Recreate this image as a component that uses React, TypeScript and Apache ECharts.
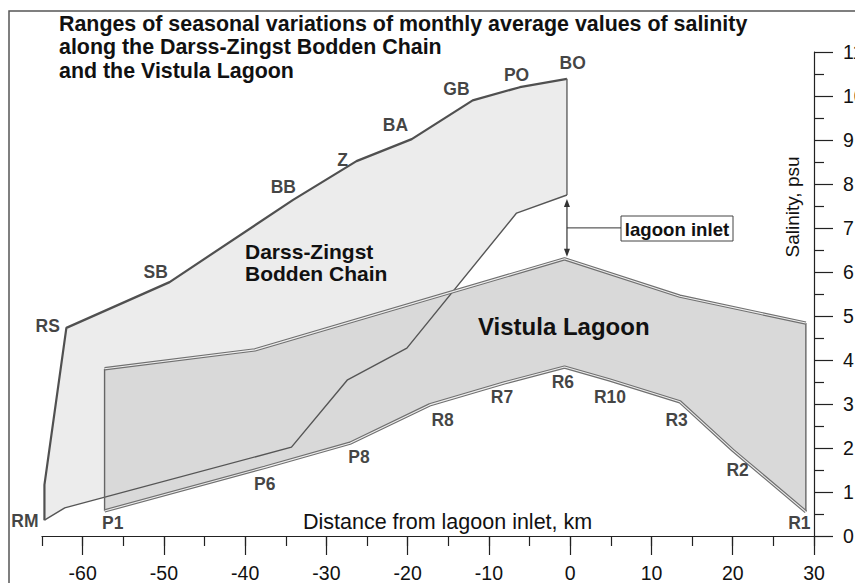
import React, { useEffect, useRef } from 'react';
import * as echarts from 'echarts';

// Darss-Zingst Bodden Chain: upper (max) and lower (min) salinity boundaries, distance km / psu
const darssUpperX = [-64.7, -64.7, -62.0, -49.3, -34.1, -26.3, -19.5, -12.0, -6.2, -0.4];
const darssUpperY = [0.36, 1.16, 4.73, 5.77, 7.64, 8.52, 9.02, 9.9, 10.2, 10.39];
const darssLowerX = [-64.7, -62.2, -34.3, -27.4, -20.1, -6.6, -0.4];
const darssLowerY = [0.36, 0.64, 2.02, 3.55, 4.27, 7.34, 7.75];

// Vistula Lagoon boundaries
const vistulaUpperX = [-57.3, -38.8, -0.7, 13.5, 29.0];
const vistulaUpperY = [3.8, 4.23, 6.3, 5.45, 4.84];
const vistulaLowerX = [-57.3, -37.6, -27.1, -17.3, -8.1, -0.7, 4.8, 13.5, 20.0, 29.0];
const vistulaLowerY = [0.57, 1.56, 2.11, 2.98, 3.48, 3.84, 3.55, 3.05, 1.95, 0.55];

// Station labels (label anchor in km / psu)
const stationNames = ['RM', 'RS', 'SB', 'BB', 'Z', 'BA', 'GB', 'PO', 'BO', 'P1', 'P6', 'P8', 'R8', 'R7', 'R6', 'R10', 'R3', 'R2', 'R1'];
const stationX = [-67.1, -64.3, -51.0, -35.3, -28.0, -21.5, -14.0, -6.6, 0.3, -56.3, -37.6, -26.0, -15.7, -8.4, -0.9, 4.9, 13.1, 20.6, 28.2];
const stationY = [0.34, 4.77, 6.0, 7.93, 8.55, 9.34, 10.16, 10.48, 10.75, 0.3, 1.18, 1.8, 2.64, 3.16, 3.5, 3.16, 2.64, 1.5, 0.3];

const xMin = -65;
const xMax = 30;
const xMajorStart = -60;
const yMin = 0;
const yMax = 11;

const titleText = 'Ranges of seasonal variations of monthly average values of salinity\nalong the Darss-Zingst Bodden Chain\nand the Vistula Lagoon';

export default function App() {
  const ref = useRef<HTMLDivElement>(null);
  useEffect(() => {
    const chart = echarts.init(ref.current!, null, { renderer: 'svg' });
    const font = "'Liberation Sans', Arial, Helvetica, sans-serif";
    const pts = (xs: number[], ys: number[]) => xs.map((x, i) => [x, ys[i]]);
    const darssPoly = [...pts(darssUpperX, darssUpperY), ...pts(darssLowerX, darssLowerY).reverse()];
    const vistulaPoly = [...pts(vistulaUpperX, vistulaUpperY), ...pts(vistulaLowerX, vistulaLowerY).reverse()];

    const gLeft = 42, gTop = 52, gWidth = 772, gHeight = 484;
    const pxPerUnit = gWidth / (xMax - xMin);
    const g2Left = gLeft + (xMajorStart - xMin) * pxPerUnit;

    const polygonSeries = (poly: number[][], fill: string, z: number) => ({
      type: 'custom',
      coordinateSystem: 'cartesian2d',
      xAxisIndex: 0,
      yAxisIndex: 0,
      data: [poly[0]],
      clip: false,
      silent: true,
      z,
      renderItem: (_p: any, api: any) => ({
        type: 'polygon',
        shape: { points: poly.map((p) => api.coord(p)) },
        style: { fill, stroke: 'none' },
      }),
    });
    const lineSeries = (data: number[][], color: string, width: number, z: number) => ({
      type: 'line',
      xAxisIndex: 0,
      yAxisIndex: 0,
      data,
      symbol: 'none',
      showSymbol: false,
      lineStyle: { color, width },
      z,
      silent: true,
      clip: false,
    });

    const darssUpper = pts(darssUpperX, darssUpperY);
    const darssLower = pts(darssLowerX, darssLowerY);
    const darssRightEdge = [darssUpper[darssUpper.length - 1], darssLower[darssLower.length - 1]];
    const vUpper = pts(vistulaUpperX, vistulaUpperY);
    const vLower = pts(vistulaLowerX, vistulaLowerY);
    const vLeft = [vUpper[0], vLower[0]];
    const vRight = [vUpper[vUpper.length - 1], vLower[vLower.length - 1]];

    const axisLabelStyle = { fontFamily: font, fontSize: 19.5, color: '#111' };

    chart.setOption({
      animation: false,
      backgroundColor: '#fff',
      grid: [
        { left: gLeft, top: gTop, width: gWidth, height: gHeight, outerBoundsMode: 'none', containLabel: false },
        { left: g2Left, top: gTop, width: gWidth - (g2Left - gLeft), height: gHeight, outerBoundsMode: 'none', containLabel: false },
      ],
      xAxis: [
        {
          type: 'value', gridIndex: 0, min: xMin, max: xMax, interval: 5,
          axisLine: { show: true, onZero: false, lineStyle: { color: '#222', width: 1.2 } },
          axisTick: { show: true, length: 10, lineStyle: { color: '#222', width: 1.2 } },
          axisLabel: { show: false },
          splitLine: { show: false },
        },
        {
          type: 'value', gridIndex: 1, min: xMajorStart, max: xMax, interval: 10,
          axisLine: { show: false, onZero: false },
          axisTick: { show: true, length: 19, lineStyle: { color: '#222', width: 1.2 } },
          axisLabel: { show: true, margin: 27, ...axisLabelStyle },
          splitLine: { show: false },
        },
      ],
      yAxis: [
        {
          type: 'value', gridIndex: 0, position: 'right', min: yMin, max: yMax, interval: 1,
          axisLine: { show: true, onZero: false, lineStyle: { color: '#222', width: 1.2 } },
          axisTick: { show: true, length: 19, lineStyle: { color: '#222', width: 1.2 } },
          minorTick: { show: true, splitNumber: 2, length: 10, lineStyle: { color: '#222', width: 1.2 } },
          axisLabel: { show: true, margin: 29, ...axisLabelStyle },
          splitLine: { show: false },
        },
        { type: 'value', gridIndex: 1, min: yMin, max: yMax, show: false },
      ],
      series: [
        polygonSeries(darssPoly, '#ececec', 1),
        polygonSeries(vistulaPoly, '#d9d9d9', 2),
        lineSeries(darssUpper, '#505050', 2.2, 3),
        lineSeries(darssRightEdge, '#606060', 1.4, 3),
        lineSeries(darssLower, '#555555', 1.4, 4),
        lineSeries(vLeft, '#666666', 1.4, 5),
        lineSeries(vRight, '#666666', 1.4, 5),
        lineSeries(vUpper, '#707070', 3.4, 5),
        lineSeries(vUpper, '#eeeeee', 1.1, 6),
        lineSeries(vLower, '#707070', 3.4, 5),
        lineSeries(vLower, '#eeeeee', 1.1, 6),
        {
          type: 'scatter',
          xAxisIndex: 0,
          yAxisIndex: 0,
          clip: false,
          silent: true,
          z: 10,
          symbolSize: 1,
          itemStyle: { color: 'rgba(0,0,0,0)' },
          data: stationNames.map((n, i) => ({ name: n, value: [stationX[i], stationY[i]] })),
          label: {
            show: true, position: 'inside', formatter: '{b}',
            fontFamily: font, fontWeight: 'bold', fontSize: 17.5, color: '#111',
          },
        },
      ],
    });

    const toPx = (p: number[]) => chart.convertToPixel({ xAxisIndex: 0, yAxisIndex: 0 }, p) as number[];
    const top = toPx(darssLower[darssLower.length - 1]);
    const peak = toPx(vUpper[2]);
    const ax = top[0];
    const a1 = top[1] + 4;
    const a2 = peak[1] - 2;
    const mid = (a1 + a2) / 2;

    chart.setOption({
      graphic: [
        { type: 'rect', shape: { x: 9, y: 11, width: 900, height: 700 }, style: { fill: 'none', stroke: '#555', lineWidth: 1.5 }, z: 100 },
        {
          type: 'text', left: 59, top: 12, z: 100,
          style: { text: titleText, fontFamily: font, fontWeight: 'bold', fontSize: 21.4, lineHeight: 23.5, fill: '#111' },
        },
        {
          type: 'text', x: 245, y: 262, z: 100,
          style: { text: 'Darss-Zingst\nBodden Chain', fontFamily: font, fontWeight: 'bold', fontSize: 21, lineHeight: 22, fill: '#111', verticalAlign: 'middle' },
        },
        {
          type: 'text', x: 478, y: 326, z: 100,
          style: { text: 'Vistula Lagoon', fontFamily: font, fontWeight: 'bold', fontSize: 24, fill: '#111', verticalAlign: 'middle' },
        },
        { type: 'rect', shape: { x: 621, y: 216, width: 112, height: 25 }, style: { fill: '#fff', stroke: '#444', lineWidth: 1 }, z: 100 },
        {
          type: 'text', x: 677, y: 229, z: 101,
          style: { text: 'lagoon inlet', fontFamily: font, fontWeight: 'bold', fontSize: 18.6, fill: '#111', align: 'center', verticalAlign: 'middle' },
        },
        { type: 'line', shape: { x1: ax, y1: mid, x2: 621, y2: mid }, style: { stroke: '#333', lineWidth: 1 }, z: 100 },
        { type: 'line', shape: { x1: ax, y1: a1 + 6, x2: ax, y2: a2 - 6 }, style: { stroke: '#333', lineWidth: 1.2 }, z: 100 },
        { type: 'polygon', shape: { points: [[ax, a1], [ax - 3, a1 + 8], [ax + 3, a1 + 8]] }, style: { fill: '#333' }, z: 100 },
        { type: 'polygon', shape: { points: [[ax, a2], [ax - 3, a2 - 8], [ax + 3, a2 - 8]] }, style: { fill: '#333' }, z: 100 },
        {
          type: 'text', x: 792, y: 207, rotation: Math.PI / 2, z: 100,
          style: { text: 'Salinity, psu', fontFamily: font, fontSize: 19, fill: '#111', align: 'center', verticalAlign: 'middle' },
        },
        {
          type: 'text', x: 303, y: 522, z: 100,
          style: { text: 'Distance from lagoon inlet, km', fontFamily: font, fontSize: 21.5, fill: '#111', verticalAlign: 'middle' },
        },
      ],
    });

    return () => chart.dispose();
  }, []);
  return <div ref={ref} style={{ position: 'absolute', left: 0, top: 0, width: 855, height: 583 }} />;
}
